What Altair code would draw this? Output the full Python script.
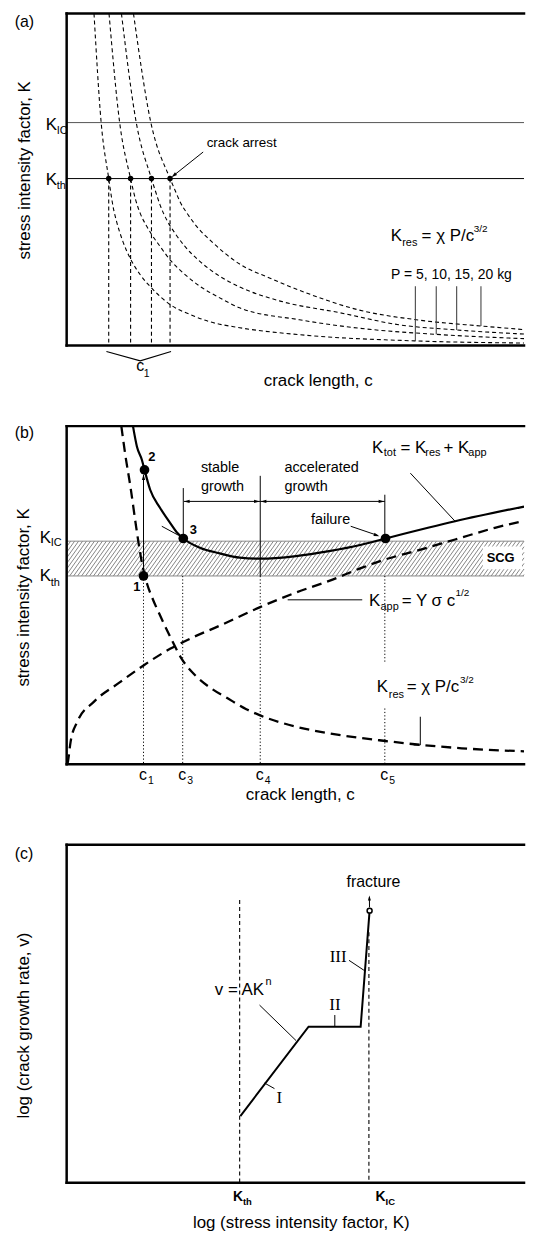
import math
import altair as alt
import pandas as pd

W = 460
HA, HB, HC = 334, 340, 340
SANS = "Liberation Sans"
SERIF = "Liberation Serif"

# ---------------- panel (a) data (chart units) ----------------
a_kic = 224.3
a_kth = 168.0
a_c1_x = [27.5, 34.7, 42.3, 44, 46.7, 50.7, 56, 64.3, 74, 85.3, 104, 124, 144, 174, 234, 351, 460]
a_c1_y = [334, 224.3, 168, 156.3, 139.7, 123, 106.3, 87, 71.3, 58, 41.3, 31.3, 24, 18, 11, 4.7, 2.6]
a_c2_x = [42.6, 53.3, 64.3, 69, 74, 80.7, 85.3, 94, 104, 117.3, 134, 154, 174, 234, 294, 371.7, 460]
a_c2_y = [334, 224.3, 168, 148, 133, 119.7, 112, 99.7, 86.3, 73, 59.7, 48, 38, 26, 17.5, 11.3, 7.0]
a_c3_x = [55.1, 70, 85.3, 89, 94, 100.7, 109, 119, 134, 154, 174, 214, 275, 334, 392.3, 460]
a_c3_y = [334, 224.3, 168, 156.3, 141.3, 126.3, 113, 99.7, 84.7, 69.7, 59, 45, 33, 21, 15.7, 11.6]
a_c4_x = [67.2, 84.7, 104, 109, 114, 122.3, 132.3, 144, 159, 174, 204, 241, 292, 354, 416.7, 460]
a_c4_y = [334, 224.3, 168, 156.3, 144.7, 131.3, 118, 106.3, 93, 82, 68, 53, 36.3, 25.7, 19.7, 16.1]
a_arrest_x = [42.3, 64.3, 85.3, 104.0]
a_tick_x = [350.7, 371.7, 392.3, 416.7]
a_tick_bot = [4.7, 11.3, 15.7, 19.7]
a_tick_top = 59.7
a_brace_x = [40, 74, 105]
a_brace_y = [-6, -15.3, -6]

# ---------------- panel (b) data ----------------
b_kic = 224.3
b_kth = 189.3
b_tot_x = [66.7, 70.7, 75.7, 78.3, 84, 94, 104, 110.7, 117.3, 134, 154, 174, 194.7, 230.7, 264, 297.3, 320.7, 390.7, 460]
b_tot_y = [340, 319.3, 306, 296, 276, 257.7, 242.7, 233.3, 227, 217.7, 212, 207.7, 206.7, 209.3, 214.3, 221, 227, 244.3, 259.1]
b_res_x = [55, 59, 64, 70, 74, 78, 81, 86, 94, 104.7, 115.7, 130, 145.7, 162.3, 180.7, 194, 230.7, 264, 320.7, 357.3, 397.3, 460]
b_res_y = [340, 311, 280, 238, 212, 192, 181, 167.5, 149.5, 127, 106, 88.7, 76, 66, 55.3, 49.3, 37.7, 31, 23.3, 19.3, 16, 12.9]
b_app_x = [0.7, 1.3, 4, 10.7, 27.3, 54, 77.3, 104, 127.3, 154, 194, 230.7, 264, 297.3, 320.7, 350.7, 390.7, 430.7, 460]
b_app_y = [0, 2.7, 22.7, 42.7, 62.7, 82.7, 99.3, 116, 127.7, 139.3, 157.7, 172.7, 184.3, 197.7, 206, 214.3, 226, 237.7, 244.8]
b_pts_x = [77.3, 78.3, 117.3, 320.7]
b_pts_y = [189.3, 296, 227, 227]
b_c_x = [77.3, 116.7, 194.7, 320.0]
b_c_lab = ["1", "3", "4", "5"]

# ---------------- panel (c) data ----------------
c_v_x = [174.7, 243.3, 295.7, 304.7]
c_v_y = [67, 157, 157, 273.7]
c_kth_x = 174.0
c_kic_x = 304.0

ARROW = "M0,0L-0.55,1.9L0.55,1.9Z"


def sx():
    return alt.X("x:Q", scale=alt.Scale(domain=[0, W]), axis=None)


def sy(H):
    return alt.Y("y:Q", scale=alt.Scale(domain=[0, H]), axis=None)


def lines(curves, H, **mk):
    rows = []
    for k, (xs, ys) in enumerate(curves):
        for x, y in zip(xs, ys):
            rows.append({"k": k, "x": x, "y": y})
    return alt.Chart(pd.DataFrame(rows)).mark_line(**mk).encode(
        x=sx(), y=sy(H), detail="k:N")


def rules(segs, H, **mk):
    df = pd.DataFrame(segs, columns=["x", "y", "x2", "y2"])
    return alt.Chart(df).mark_rule(**mk).encode(
        x=sx(), y=sy(H), x2="x2:Q", y2="y2:Q")


def frame(H):
    # left, top and bottom edges of the panel (the right edge falls off the page)
    return rules([(0, 0, 0, H), (0, H, W, H), (0, 0, W, 0)], H,
                 color="black", strokeWidth=2.5, strokeCap="square")


def heads(items, H, size=40):
    rows = []
    for x, y, dx, dy in items:
        rows.append({"x": x, "y": y, "a": math.degrees(math.atan2(dx, dy)) % 360})
    return alt.Chart(pd.DataFrame(rows)).mark_point(
        shape=ARROW, filled=True, color="black", opacity=1, size=size, strokeWidth=0
    ).encode(x=sx(), y=sy(H), angle=alt.Angle("a:Q", scale=None))


def dots(xs, ys, H, size):
    return alt.Chart(pd.DataFrame({"x": xs, "y": ys})).mark_circle(
        color="black", opacity=1, size=size).encode(x=sx(), y=sy(H))


def texts(items, H):
    # items: (x, y, text, size, align, weight, family, angle)
    groups = {}
    for it in items:
        x, y, t, s = it[:4]
        align = it[4] if len(it) > 4 else "left"
        weight = it[5] if len(it) > 5 else "normal"
        fam = it[6] if len(it) > 6 else SANS
        ang = it[7] if len(it) > 7 else 0
        groups.setdefault((align, weight, fam, ang), []).append(
            {"x": x, "y": y, "t": t, "s": s})
    out = []
    for (align, weight, fam, ang), rows in groups.items():
        out.append(alt.Chart(pd.DataFrame(rows)).mark_text(
            align=align, baseline="middle", font=fam, fontWeight=weight,
            angle=ang, color="black").encode(
            x=sx(), y=sy(H), text="t:N", size=alt.Size("s:Q", scale=None)))
    return out


# ================= panel (a) =================
A = []
A.append(rules([(0, a_kic, W, a_kic)], HA, color="#555", strokeWidth=1))
A.append(rules([(0, a_kth, W, a_kth)], HA, color="black", strokeWidth=1))
A.append(lines([(a_c1_x, a_c1_y), (a_c2_x, a_c2_y), (a_c3_x, a_c3_y), (a_c4_x, a_c4_y)], HA,
               color="black", strokeWidth=1.1, strokeDash=[4, 3], interpolate="monotone", clip=True))
A.append(rules([(x, a_kth, x, 0) for x in a_arrest_x], HA, color="black", strokeWidth=1.1, strokeDash=[4, 3]))
A.append(dots(a_arrest_x, [a_kth] * 4, HA, 30))
A.append(rules([(x, a_tick_top, x, b) for x, b in zip(a_tick_x, a_tick_bot)], HA, color="#333", strokeWidth=1))
A.append(lines([(a_brace_x, a_brace_y)], HA, color="black", strokeWidth=1.1))
A.append(rules([(137.3, 194.7, 107.5, 171.0)], HA, color="black", strokeWidth=1))
A.append(heads([(105.5, 169.4, -31.8, -25.3)], HA, 36))
A.append(frame(HA))
A += texts([
    (-52.3, 325, "(a)", 16),
    (-42, 176.3, "stress intensity factor, K", 17, "center", "normal", SANS, 270),
    (-21, 222, "K", 17), (-10, 216, "IC", 11),
    (-21, 167, "K", 17), (-10, 161, "th", 11),
    (140.8, 204, "crack arrest", 13.5),
    (326, 110, "K", 17), (337.5, 103, "res", 11), (357, 110, "= χ P/c", 17), (409.5, 117, "3/2", 10),
    (326.3, 71.3, "P = 5, 10, 15, 20 kg", 14),
    (74, -21, "c", 16, "center"), (77.5, -28.5, "1", 10.5),
    (253, -36, "crack length, c", 17, "center"),
], HA)
panel_a = alt.layer(*A).properties(width=W, height=HA)

# ================= panel (b) =================
B = []
slope = (b_kic - b_kth) / 25.0
hatch = alt.Chart(alt.sequence(-25, W, 4, as_="x0")).transform_calculate(
    x="max(datum.x0, 0)",
    x2=f"min(datum.x0 + 25, {W})",
).transform_calculate(
    y=f"{b_kth} + (datum.x - datum.x0) * {slope}",
    y2=f"{b_kth} + (datum.x2 - datum.x0) * {slope}",
).mark_rule(color="#666", strokeWidth=0.8).encode(
    x=sx(), y=sy(HB), x2="x2:Q", y2="y2:Q")
B.append(hatch)
B.append(rules([(0, b_kic, W, b_kic), (0, b_kth, W, b_kth)], HB, color="#888", strokeWidth=1))
B.append(alt.Chart(pd.DataFrame({"x": [418.6], "x2": [458.0], "y": [196.0], "y2": [219.0]})).mark_rect(
    color="white", opacity=1).encode(x=sx(), y=sy(HB), x2="x2:Q", y2="y2:Q"))
# dotted & thin verticals
B.append(rules([(b_c_x[0], b_kth, b_c_x[0], 0), (b_c_x[1], b_kth, b_c_x[1], 0),
                (b_c_x[2], b_kth, b_c_x[2], 0), (b_c_x[3], b_kth, b_c_x[3], 103),
                (b_c_x[3], 56, b_c_x[3], 0)], HB,
               color="black", strokeWidth=1, strokeDash=[1.2, 2.2]))
B.append(rules([(117.3, 277.7, 117.3, 227), (194.7, 290, 194.7, b_kth), (320.0, 271, 320.0, 227),
                (118, 264.3, 194.7, 264.3), (194.7, 264.3, 320.0, 264.3),
                (77.3, 189.3, 77.3, 291), (95.7, 239.3, 112.3, 230.3),
                (285.7, 239.3, 313, 230), (345.7, 292.7, 390.7, 244.3),
                (222.3, 165.3, 297.3, 165.3), (355.7, 47.7, 355.7, 19.3), (355.7, 19.3, 349, 19.3)], HB,
               color="black", strokeWidth=1))
B.append(heads([(118, 264.3, -1, 0), (194.2, 264.3, 1, 0), (195.2, 264.3, -1, 0), (319.5, 264.3, 1, 0),
                (77.3, 291.5, 0, 1), (314.5, 229.3, 30, -10)], HB, 36))
B.append(lines([(b_res_x, b_res_y), (b_app_x, b_app_y)], HB, color="black", strokeWidth=2.3,
               strokeDash=[10, 6], interpolate="monotone", clip=True))
B.append(lines([(b_tot_x, b_tot_y)], HB, color="black", strokeWidth=2.2, interpolate="monotone", clip=True))
B.append(dots(b_pts_x, b_pts_y, HB, 95))
B.append(frame(HB))
B += texts([
    (-52.3, 332.7, "(b)", 16),
    (-43, 167.7, "stress intensity factor, K", 17, "center", "normal", SANS, 270),
    (-27, 227.7, "K", 17), (-16, 222, "IC", 11),
    (-27, 189.3, "K", 17), (-16, 182.7, "th", 11),
    (135, 297.7, "stable", 14.5), (135, 278.7, "growth", 14.5),
    (219, 297.7, "accelerated", 14.5), (219, 278.7, "growth", 14.5),
    (245.7, 246, "failure", 14.5),
    (307, 317.7, "K", 17), (319, 312.7, "tot", 11), (335.7, 317.7, "= K", 17),
    (360.7, 312.7, "res", 11), (379, 317.7, "+ K", 17), (404, 312.7, "app", 11),
    (304, 164.3, "K", 17), (315.7, 158, "app", 11), (337, 164.3, "= Y σ c", 17), (391, 172, "1/2", 10),
    (312, 77.7, "K", 17), (324, 70, "res", 11), (342, 77.7, "= χ P/c", 17), (395.5, 84.3, "3/2", 10),
    (85.7, 308.7, "2", 13, "center", "bold"), (127.3, 236, "3", 13, "center", "bold"),
    (70.7, 177.7, "1", 13, "center", "bold"),
    (436.5, 207, "SCG", 13, "center", "bold"),
    (235, -31, "crack length, c", 17, "center"),
] + [(x - 0.5, -10.7, "c", 16, "center") for x in b_c_x]
  + [(x + 4.5, -17.3, l, 10.5) for x, l in zip(b_c_x, b_c_lab)], HB)
panel_b = alt.layer(*B).properties(width=W, height=HB)

# ================= panel (c) =================
C = []
C.append(rules([(c_kth_x, 284.3, c_kth_x, 0), (c_kic_x, 252, c_kic_x, 0)], HC,
               color="black", strokeWidth=1.1, strokeDash=[4, 3]))
C.append(lines([(c_v_x, c_v_y)], HC, color="black", strokeWidth=2))
C.append(rules([(304.6, 277, 304.5, 287), (194, 178.7, 230.7, 143), (269.7, 168.7, 269.7, 157),
                (284, 223.7, 299, 213.7), (199, 100.3, 209, 94.7)], HC, color="black", strokeWidth=1))
C.append(heads([(304.5, 289, 0, 1)], HC, 30))
C.append(alt.Chart(pd.DataFrame({"x": [304.7], "y": [273.7]})).mark_point(
    shape="circle", filled=True, fill="white", stroke="black", strokeWidth=1.5, opacity=1, size=25
).encode(x=sx(), y=sy(HC)))
C.append(frame(HC))
C += texts([
    (-52.3, 330.3, "(c)", 16),
    (-43, 158, "log (crack growth rate, v)", 17, "center", "normal", SANS, 270),
    (308.6, 302, "fracture", 16, "center"),
    (149, 193.7, "v = AK", 17), (200, 202, "n", 11),
    (269.8, 178.7, "II", 17, "center", "normal", SERIF),
    (273, 227, "III", 17, "center", "normal", SERIF),
    (214, 85.3, "I", 17, "center", "normal", SERIF),
    (172.3, -14.7, "K", 14, "center", "bold"), (177.3, -19.7, "th", 9.5, "left", "bold"),
    (315.7, -14.7, "K", 14, "center", "bold"), (320.7, -19.7, "IC", 9.5, "left", "bold"),
    (236, -40.5, "log (stress intensity factor, K)", 17, "center"),
], HC)
panel_c = alt.layer(*C).properties(width=W, height=HC)

chart = alt.vconcat(panel_a, panel_b, panel_c, spacing=81, bounds="flush").properties(
    padding={"left": 6, "top": 0, "right": 0, "bottom": 0}
).configure_view(stroke=None)

chart.save("out.html", embed_options={"renderer": "svg", "actions": False})
